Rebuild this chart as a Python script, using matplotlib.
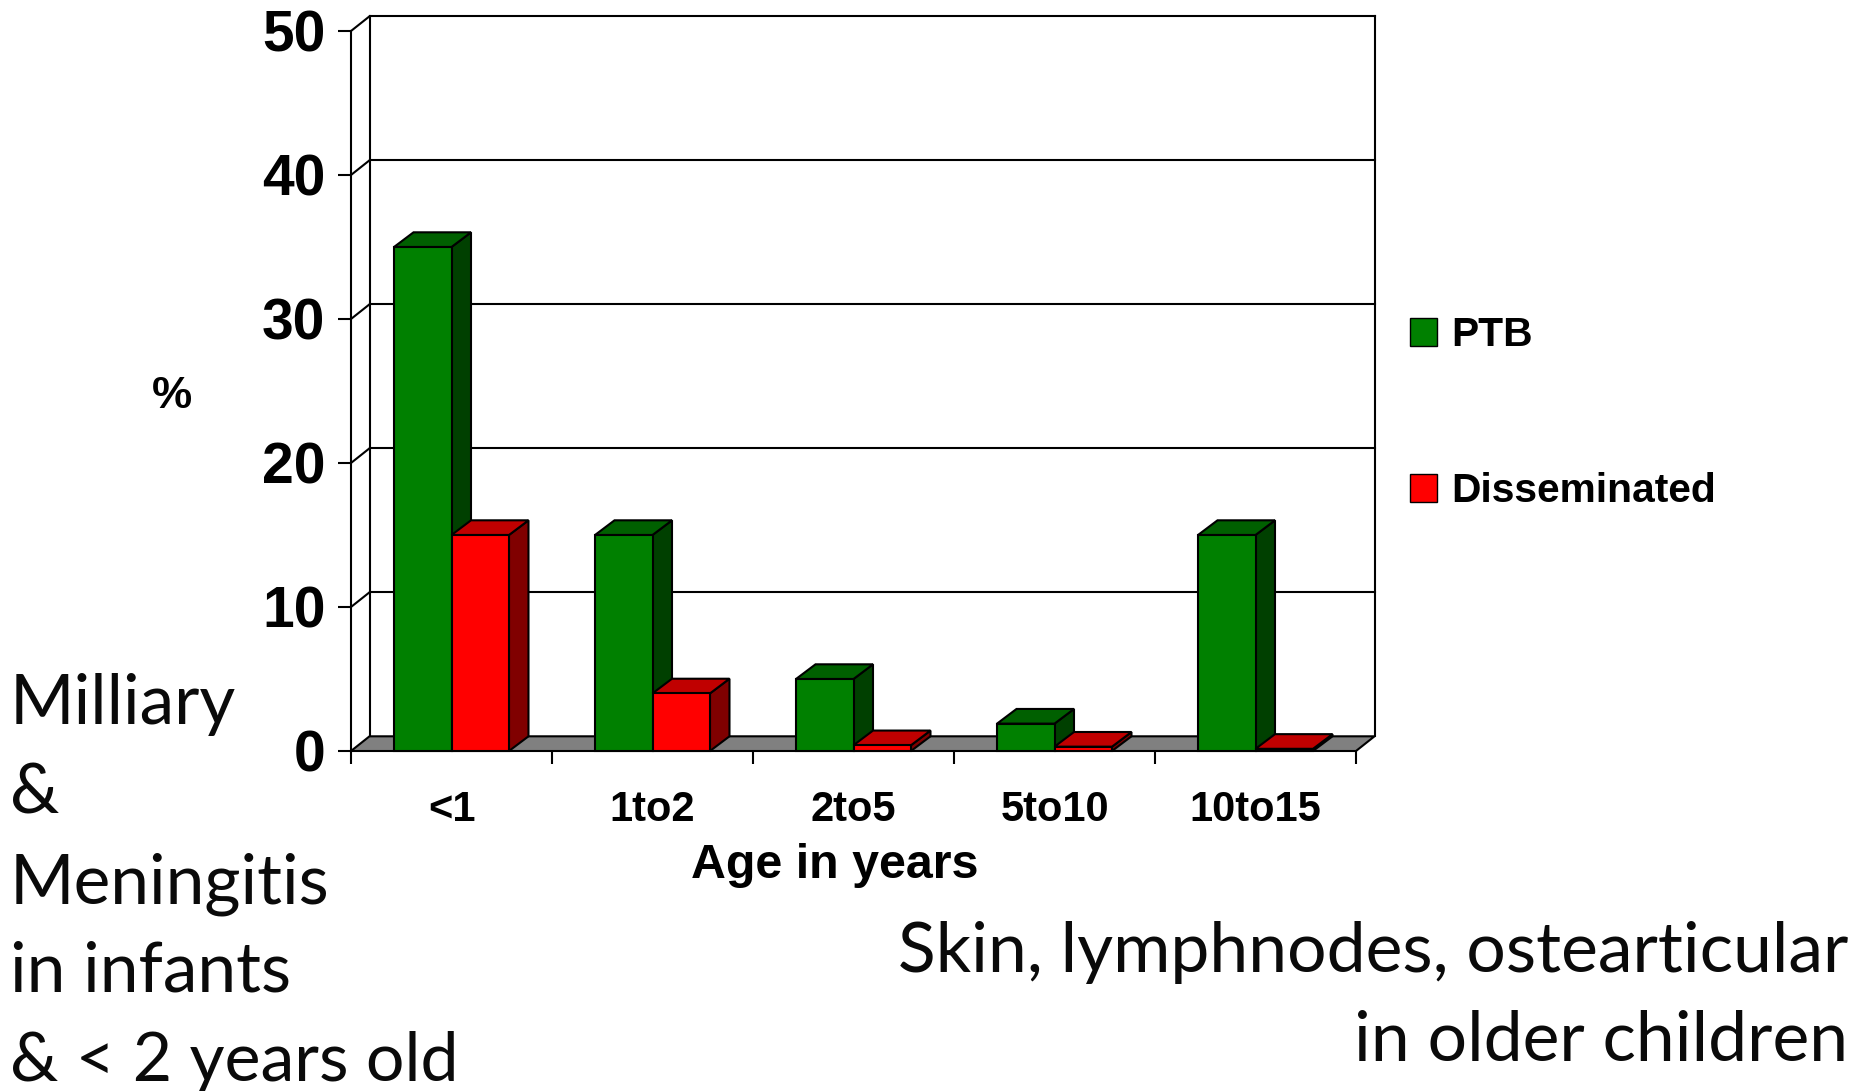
import matplotlib
matplotlib.use('Agg')
import matplotlib.pyplot as plt
import numpy as np
from matplotlib.patches import Patch

# values
age_groups = ['<1', '1to2', '2to5', '5to10', '10to15']
ptb = [35, 15, 5, 1.9, 15]
disseminated = [15, 4, 0.4, 0.3, 0.15]
y_ticks = [0, 10, 20, 30, 40, 50]

W, H = 1860, 1091
plt.rcParams['font.family'] = ['Liberation Sans', 'DejaVu Sans']
fig = plt.figure(figsize=(W / 100, H / 100), dpi=100, facecolor='white')

# the front plane of the fake 3d box is the axes itself
left, right, top, bottom = 351, 1356, 31, 751
ax = fig.add_axes([left / W, 1 - bottom / H, (right - left) / W, (bottom - top) / H])
ax.set_xlim(0, 5)
ax.set_ylim(0, 50)
ax.patch.set_visible(False)
for s in ax.spines.values():
    s.set_visible(False)

depth_x = 18.5 / 201
depth_y = 1.02
bar_depth_x = 19.5 / 201
lw = 1.5
bar_w = 0.286


def line(xs, ys, z=2):
    ax.plot(xs, ys, color='black', lw=lw, clip_on=False, zorder=z, solid_capstyle='projecting')


# floor
ax.fill([0, 5, 5 + depth_x, depth_x], [0, 0, depth_y, depth_y], facecolor='#808080',
        edgecolor='black', lw=lw, clip_on=False, zorder=1)
# walls and grid
line([0, 0], [0, 50])
line([depth_x, depth_x], [depth_y, 50 + depth_y])
line([5 + depth_x, 5 + depth_x], [depth_y, 50 + depth_y])
for v in y_ticks[1:]:
    line([0, depth_x], [v, v + depth_y])
    line([depth_x, 5 + depth_x], [v + depth_y, v + depth_y])


def bar3d(x0, h, front, top_c, side, z):
    ax.fill([x0 + bar_w, x0 + bar_w + bar_depth_x, x0 + bar_w + bar_depth_x, x0 + bar_w],
            [0, depth_y, h + depth_y, h], facecolor=side, edgecolor='black', lw=lw,
            clip_on=False, zorder=z)
    ax.fill([x0, x0 + bar_depth_x, x0 + bar_w + bar_depth_x, x0 + bar_w],
            [h, h + depth_y, h + depth_y, h], facecolor=top_c, edgecolor='black', lw=lw,
            clip_on=False, zorder=z)
    ax.bar(x0, h, width=bar_w, align='edge', color=front, edgecolor='black', lw=lw,
           clip_on=False, zorder=z + 0.5)


x = np.arange(len(age_groups)) + 0.5
for i in range(len(age_groups)):
    bar3d(x[i] - bar_w, ptb[i], '#008000', '#006000', '#004000', 3 + i * 2)
    bar3d(x[i], disseminated[i], '#FF0000', '#C00000', '#800000', 4 + i * 2)

ax.set_yticks(y_ticks)
ax.set_xticks(np.arange(6))
ax.set_xticklabels([])
ax.set_xticks(x, minor=True)
ax.set_xticklabels(age_groups, minor=True, fontsize=30, fontweight='bold')
ax.tick_params(axis='y', length=9.4, width=lw, pad=9, labelsize=41)
ax.tick_params(axis='x', which='major', length=9.4, width=lw)
ax.tick_params(axis='x', which='minor', length=0, pad=28)
for t in ax.get_yticklabels():
    t.set_fontweight('bold')

fig.text(835 / W, 1 - 866 / H, 'Age in years', fontsize=34.8, fontweight='bold', ha='center', va='center')
fig.text(172 / W, 1 - 396 / H, '%', fontsize=32.5, fontweight='bold', ha='center', va='center')

handles = [Patch(facecolor='#008000', edgecolor='black', lw=1.0, label='PTB'),
           Patch(facecolor='#FF0000', edgecolor='black', lw=1.0, label='Disseminated')]
fig.legend(handles=handles, loc='upper left', bbox_to_anchor=(1410 / W, 1 - 316 / H), frameon=False,
           prop={'size': 29.3, 'weight': 'bold'}, handlelength=0.67, handleheight=0.67,
           handletextpad=0.34, labelspacing=2.9, borderpad=0, borderaxespad=0)

# slide text around the chart, last line runs off the bottom edge as in the original
note_font = ['Lato', 'DejaVu Sans']
left_notes = ['Milliary', '&', 'Meningitis', 'in infants', '& < 2 years old']
left_base = [724, 814, 903, 991, 1081]
left_size = [50, 50, 50, 50, 49]
for s, b, fs in zip(left_notes, left_base, left_size):
    fig.text(10 / W, 1 - b / H, s, fontsize=fs, family=note_font, color='#0a0a0a', va='baseline')
right_notes = ['Skin, lymphnodes, ostearticular', 'in older children']
right_base = [972, 1061]
for s, b in zip(right_notes, right_base):
    fig.text(1848 / W, 1 - b / H, s, fontsize=50.2, family=note_font, color='#0a0a0a', ha='right', va='baseline')

fig.savefig('out.png', dpi=100)
